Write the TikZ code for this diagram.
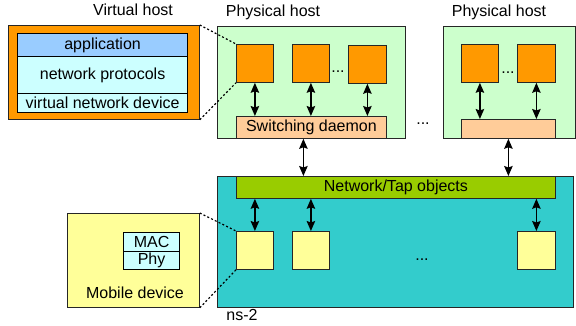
\documentclass[tikz,border=0pt]{standalone}
\usepackage{fontspec}
\setmainfont{Liberation Sans}
\usetikzlibrary{arrows.meta}

\definecolor{vmorange}{HTML}{FF9900}
\definecolor{appblue}{HTML}{99CCFF}
\definecolor{protocyan}{HTML}{CCFFFF}
\definecolor{hostgreen}{HTML}{CCFFCC}
\definecolor{daemonpeach}{HTML}{FFCC99}
\definecolor{nsteal}{HTML}{33CCCC}
\definecolor{tapgreen}{HTML}{99CC00}
\definecolor{nodeyellow}{HTML}{FFFF99}

\tikzset{
  box/.style={draw=black!85, line width=0.8pt, inner sep=0pt, anchor=north west},
  layer/.style={box, draw=black, line width=1.2pt},
  dbl/.style={{Stealth[length=10pt,width=8.5pt,inset=1.5pt]}-{Stealth[length=10pt,width=8.5pt,inset=1.5pt]}, line width=1.4pt},
  link/.style={dash pattern=on 2pt off 2.2pt, line width=1.2pt},
}

\begin{document}
\begin{tikzpicture}[x=1pt,y=1pt,yscale=-1,font=\fontsize{16}{19}\selectfont]
\useasboundingbox (0,0) rectangle (576,325);

%Shape: Rectangle -- virtual host
\node[box, fill=vmorange, minimum width=191pt, minimum height=94pt] (vhost) at (8,25) {};
\node[layer, fill=appblue, minimum width=170pt, minimum height=23pt] (app) at (17,33) {application};
\node[layer, fill=protocyan, minimum width=170pt, minimum height=37pt] (proto) at (17,56) {network protocols};
\node[layer, fill=protocyan, minimum width=170pt, minimum height=19pt] (vdev) at (17,93) {virtual network device};

%Shape: Rectangle -- physical hosts
\node[box, fill=hostgreen, minimum width=188pt, minimum height=112pt] (host1) at (217,26) {};
\node[box, fill=hostgreen, minimum width=132pt, minimum height=112pt] (host2) at (443,26) {};

%Shape: Square -- guests
\node[box, fill=vmorange, minimum width=37pt, minimum height=38pt] (vm11) at (236,44) {};
\node[box, fill=vmorange, minimum width=37pt, minimum height=38pt] (vm12) at (292,44) {};
\node[box, fill=vmorange, minimum width=38pt, minimum height=38pt] (vm13) at (348,45) {};
\node[box, fill=vmorange, minimum width=37pt, minimum height=38pt] (vm21) at (461,44) {};
\node[box, fill=vmorange, minimum width=38pt, minimum height=38pt] (vm22) at (517,44) {};

%Shape: Rectangle -- switching daemons
\node[box, fill=daemonpeach, minimum width=150pt, minimum height=22pt] (sd1) at (236,116) {Switching daemon};
\node[box, fill=daemonpeach, minimum width=94pt, minimum height=19pt] (sd2) at (461,119) {};

%Shape: Rectangle -- ns-2
\node[box, fill=nsteal, minimum width=356pt, minimum height=131pt] (ns) at (217,176) {};
\node[box, fill=tapgreen, minimum width=319pt, minimum height=22pt] (tap) at (236,176) {Network/Tap objects};
\node[box, fill=nodeyellow, minimum width=37pt, minimum height=38pt] (mn1) at (236,231) {};
\node[box, fill=nodeyellow, minimum width=37pt, minimum height=38pt] (mn2) at (292,231) {};
\node[box, fill=nodeyellow, minimum width=38pt, minimum height=38pt] (mn3) at (517,231) {};

%Shape: Rectangle -- mobile device
\node[box, fill=nodeyellow, minimum width=132pt, minimum height=94pt] (mobile) at (67,213) {};
\node[layer, fill=protocyan, minimum width=56pt, minimum height=19pt] (mac) at (123,232) {MAC};
\node[layer, fill=protocyan, minimum width=56pt, minimum height=18pt] (phy) at (123,251) {Phy};

%Straight Lines -- guests to daemons
\draw[dbl] (vm11.south) -- (vm11.south |- sd1.north);
\draw[dbl] (vm12.south) -- (vm12.south |- sd1.north);
\draw[dbl] (vm13.south) -- (vm13.south |- sd1.north);
\draw[dbl] (vm21.south) -- (vm21.south |- sd2.north);
\draw[dbl] (vm22.south) -- (vm22.south |- sd2.north);

%Straight Lines -- daemons to tap objects
\draw[dbl] ([xshift=-8pt]sd1.south) -- ([xshift=-8pt]sd1.south |- tap.north);
\draw[dbl] (sd2.south) -- (sd2.south |- tap.north);

%Straight Lines -- tap objects to nodes
\draw[dbl] (mn1.north |- tap.south) -- (mn1.north);
\draw[dbl] (mn2.north |- tap.south) -- (mn2.north);
\draw[dbl] (mn3.north |- tap.south) -- (mn3.north);

%Dotted Lines -- zoom in
\draw[link] (vhost.north east) -- (vm11.north west);
\draw[link] (vhost.south east) -- (vm11.south west);
\draw[link] (mobile.north east) -- (mn1.north west);
\draw[link] (mobile.south east) -- (mn1.south west);

% Text Node
\node[anchor=base] (vhlabel) at (133,15) {Virtual host};
% Text Node
\node[anchor=base] (h1label) at (273,16) {Physical host};
% Text Node
\node[anchor=base] (h2label) at (499,16) {Physical host};
% Text Node
\node[anchor=base] (nslabel) at (242,320) {ns-2};
% Text Node
\node[anchor=base] (mdlabel) at (135,298) {Mobile device};
% Text Node
\node (dots1) at (338,72) {...};
% Text Node
\node (dots2) at (508,73) {...};
% Text Node
\node (dots3) at (423,124) {...};
% Text Node
\node (dots4) at (422,260) {...};

\end{tikzpicture}
\end{document}
